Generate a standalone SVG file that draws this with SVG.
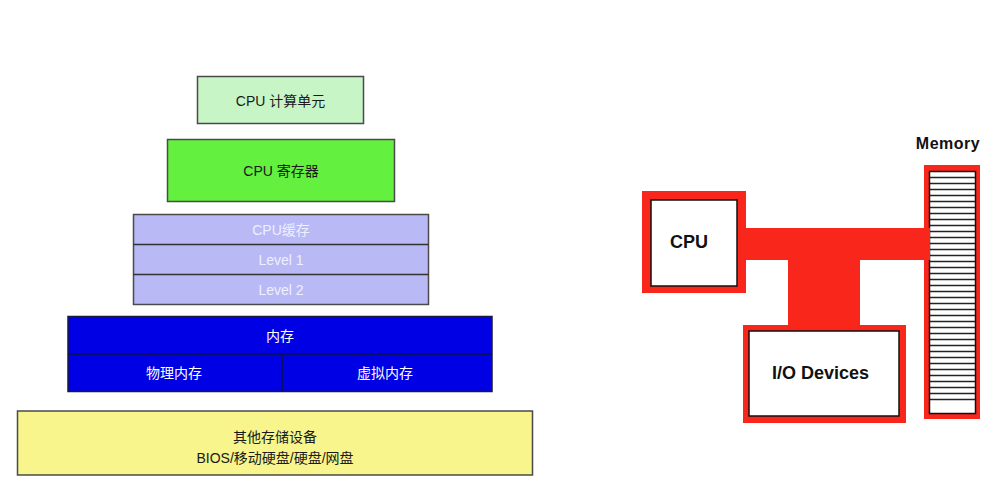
<svg xmlns="http://www.w3.org/2000/svg" width="1007" height="479" viewBox="0 0 1007 479">
<style>
.box{stroke:#4a4a4a;stroke-width:1.5}
.t{font-family:"Liberation Sans","Noto Sans CJK SC",sans-serif;font-size:14px;text-anchor:middle}
.dark{fill:#1a1a1a}
.wt{fill:#ffffff}
.lt{fill:#eef0ff}
.red{fill:#f9261c}
.inner{fill:#ffffff;stroke:#111;stroke-width:1.5}
.b{font-family:"Liberation Sans",Arial,sans-serif;font-weight:bold;fill:#111;text-anchor:middle}
</style>
<rect width="1007" height="479" fill="#ffffff"/>

<g id="cpu-alu">
<rect class="box" x="197.5" y="76.5" width="166" height="47" fill="#c8f5c6"/>
<text class="t dark" x="280.5" y="106" font-size="15">CPU 计算单元</text>
</g>
<g id="cpu-register">
<rect class="box" x="167.5" y="139.5" width="227" height="62" fill="#63f03e"/>
<text class="t dark" x="281" y="176" font-size="15">CPU 寄存器</text>
</g>
<g id="cpu-cache">
<rect class="box" x="133.5" y="214.5" width="295" height="90" fill="#b9b9f5"/>
<line x1="133.5" y1="244.5" x2="428.5" y2="244.5" stroke="#333" stroke-width="1.5"/>
<line x1="133.5" y1="274.5" x2="428.5" y2="274.5" stroke="#333" stroke-width="1.5"/>
<text class="t lt" x="281" y="235">CPU缓存</text>
<text class="t lt" x="281" y="265">Level 1</text>
<text class="t lt" x="281" y="295">Level 2</text>
</g>
<g id="main-memory">
<rect x="68" y="316.5" width="424" height="75" fill="#0000e4" stroke="#1a1a40" stroke-width="1.5"/>
<line x1="68" y1="354" x2="492" y2="354" stroke="#101040" stroke-width="1.5"/>
<line x1="282" y1="354" x2="282" y2="391.5" stroke="#101040" stroke-width="1.5"/>
<text class="t wt" x="280" y="341">内存</text>
<text class="t wt" x="174" y="378">物理内存</text>
<text class="t wt" x="385" y="378">虚拟内存</text>
</g>
<g id="other-storage">
<rect class="box" x="17.5" y="411" width="515" height="64" fill="#f7f58b"/>
<text class="t dark" x="275" y="442">其他存储设备</text>
<text class="t dark" x="275" y="463">BIOS/移动硬盘/硬盘/网盘</text>
</g>

<g id="connectors">
<rect class="red" x="740" y="228" width="191" height="32"/>
<rect class="red" x="788" y="255" width="72" height="75"/>
</g>

<g id="cpu">
<rect class="red" x="642" y="191" width="104" height="102"/>
<rect class="inner" x="651" y="200" width="86" height="86"/>
<text class="b" x="689" y="248" font-size="18">CPU</text>
</g>
<g id="io-devices">
<rect class="red" x="743" y="325" width="163" height="98"/>
<rect class="inner" x="749" y="331" width="150" height="85"/>
<text class="b" x="820.5" y="379" font-size="18">I/O Devices</text>
</g>
<g id="memory">
<rect class="red" x="924" y="165" width="56" height="254"/>
<rect x="929.5" y="171.5" width="46" height="242" fill="#ffffff" stroke="#111" stroke-width="1.5"/>
<path d="M930 177.5h45m-45 6h45m-45 6h45m-45 6h45m-45 6h45m-45 6h45m-45 6h45m-45 6h45m-45 6h45m-45 6h45m-45 6h45m-45 6h45m-45 6h45m-45 6h45m-45 6h45m-45 6h45m-45 6h45m-45 6h45m-45 6h45m-45 6h45m-45 6h45m-45 6h45m-45 6h45m-45 6h45m-45 6h45m-45 6h45m-45 6h45m-45 6h45m-45 6h45m-45 6h45m-45 6h45m-45 6h45m-45 6h45m-45 6h45m-45 6h45m-45 6h45m-45 6h45m-45 6h45" stroke="#222" stroke-width="1.3" fill="none"/>
<rect class="red" x="924" y="228" width="6" height="32"/>
<text class="b" x="948" y="149" font-size="16" letter-spacing="0.5">Memory</text>
</g>
</svg>
